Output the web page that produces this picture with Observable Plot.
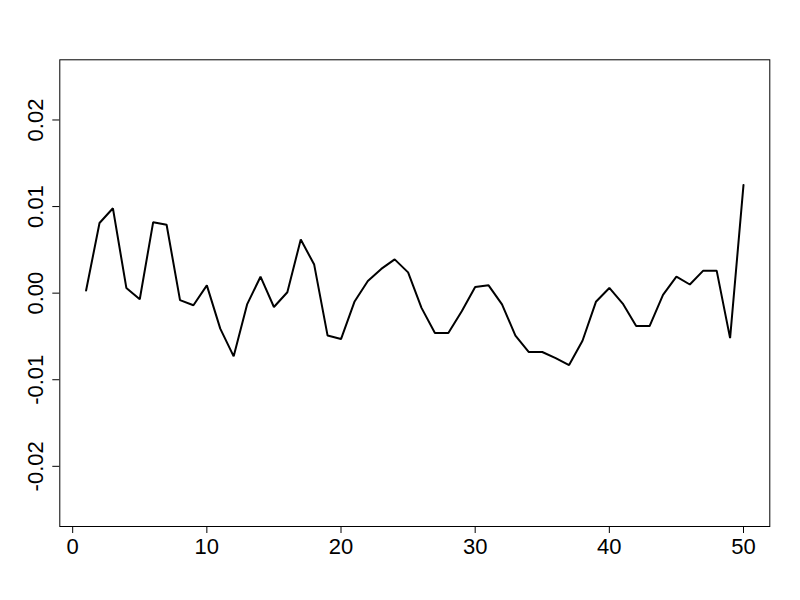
<!DOCTYPE html>
<html>
<head>
<meta charset="utf-8">
<script src="https://cdn.jsdelivr.net/npm/d3@7"></script>
<script src="https://cdn.jsdelivr.net/npm/@observablehq/plot@0.6"></script>
<style>
  html, body { margin: 0; padding: 0; background: #ffffff; }
  #chart svg { display: block; }
</style>
</head>
<body>
<div id="chart"></div>
<script>
const index = [1,2,3,4,5,6,7,8,9,10,11,12,13,14,15,16,17,18,19,20,21,22,23,24,25,26,27,28,29,30,31,32,33,34,35,36,37,38,39,40,41,42,43,44,45,46,47,48,49,50];
const values = [0.0003,0.0081,0.0098,0.0006,-0.0007,0.0082,0.0079,-0.0008,-0.0014,0.0009,
                -0.0041,-0.0073,-0.0013,0.0019,-0.0016,0.0001,0.0062,0.0033,-0.0049,-0.0053,
                -0.0010,0.0014,0.0028,0.0039,0.0024,-0.0017,-0.0046,-0.0046,-0.0021,0.0007,
                0.0009,-0.0013,-0.0049,-0.0068,-0.0068,-0.0075,-0.0083,-0.0055,-0.0010,0.0006,
                -0.0012,-0.0038,-0.0038,-0.0002,0.0019,0.0010,0.0026,0.0026,-0.0052,0.0125];
const xTicks = [0,10,20,30,40,50];
const yTicks = [-0.02,-0.01,0,0.01,0.02];
const yTickLabels = ["-0.02","-0.01","0.00","0.01","0.02"];

const data = index.map((x, i) => ({x, y: values[i]}));
const yLabelData = yTicks.map((v, i) => ({v, label: yTickLabels[i]}));

const fontFamily = "'Liberation Sans', Arial, sans-serif";
const chart = Plot.plot({
  width: 800,
  height: 600,
  marginLeft: 59.3,
  marginRight: 30.7,
  marginTop: 59.3,
  marginBottom: 74,
  style: {fontFamily, fontSize: "22px", background: "#ffffff", color: "#000"},
  x: {domain: [-0.96, 51.96], label: null},
  y: {domain: [-0.02695, 0.02695], label: null},
  marks: [
    Plot.frame({stroke: "#000", strokeWidth: 1}),
    Plot.axisX({ticks: xTicks, tickSize: 7, tickPadding: 4.7, fontSize: 22, label: null, stroke: "#000"}),
    Plot.axisY({ticks: yTicks, tickSize: 7, tickFormat: () => "", label: null, stroke: "#000"}),
    Plot.text(yLabelData, {y: "v", text: "label", frameAnchor: "left", dx: -16.6, rotate: -90,
      textAnchor: "middle", lineAnchor: "bottom", fontSize: 22, fill: "#000"}),
    Plot.line(data, {x: "x", y: "y", stroke: "#000", strokeWidth: 2, strokeLinejoin: "miter", curve: "linear"})
  ]
});
document.getElementById("chart").appendChild(chart);
</script>
</body>
</html>
